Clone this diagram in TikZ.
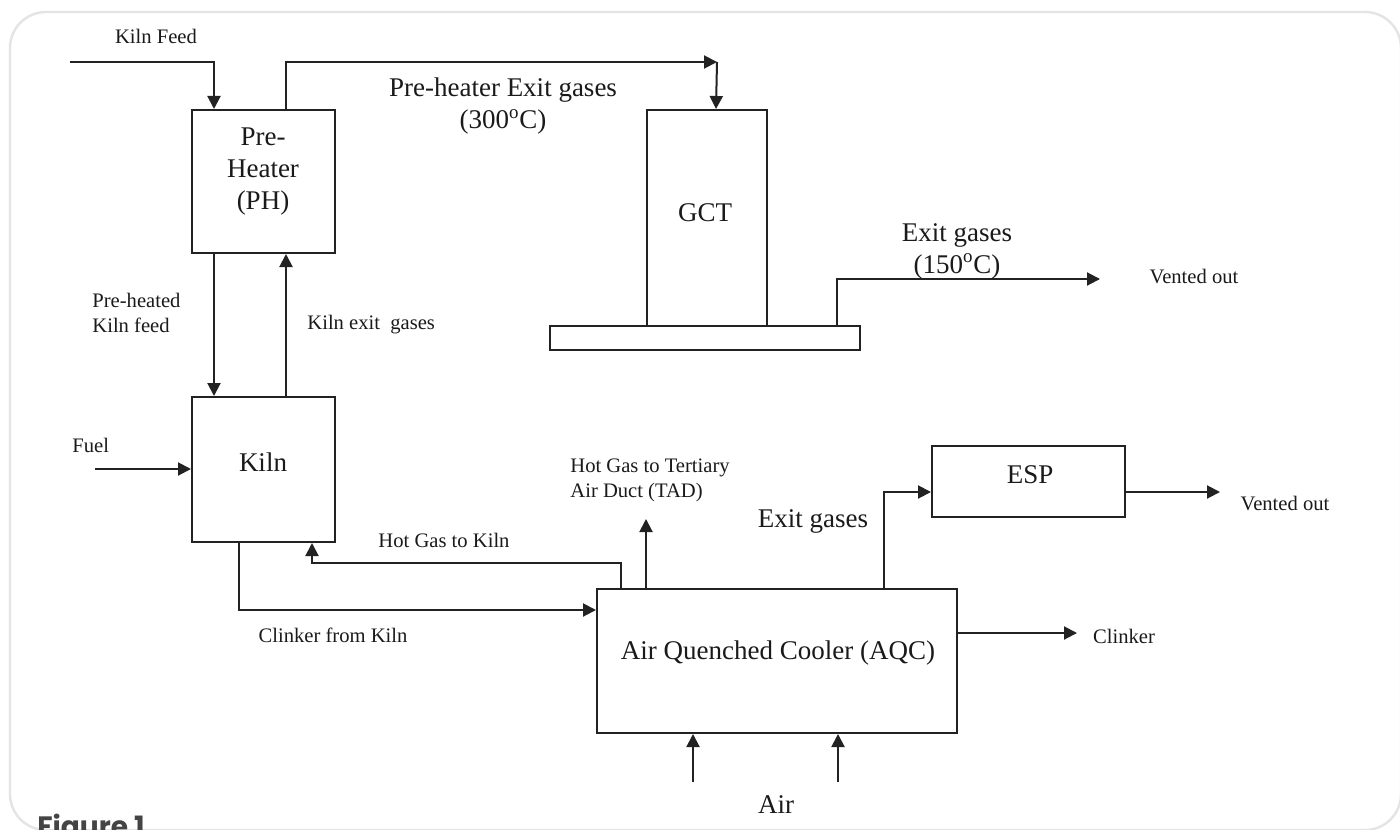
\documentclass[tikz,border=0pt]{standalone}
\usepackage{fontspec}
\setmainfont{Liberation Serif}
\newfontfamily\popfont{Poppins}
\usetikzlibrary{arrows.meta}
\definecolor{linec}{HTML}{222222}
\definecolor{txtc}{HTML}{1A1A1A}
\definecolor{bordc}{HTML}{E4E4E4}
\definecolor{figc}{HTML}{444444}
\begin{document}
\begin{tikzpicture}[x=0.5pt,y=-0.5pt,
  ln/.style={draw=linec, line width=1pt},
  arr/.style={ln, -{Triangle[length=6.5pt,width=6.5pt]}},
  box/.style={draw=linec, line width=1pt, inner sep=0pt},
  big/.style={font=\fontsize{13.5}{16}\selectfont, text=txtc, inner sep=0pt, align=center},
  small/.style={font=\fontsize{10.3}{12.2}\selectfont, text=txtc, inner sep=0pt}]
\useasboundingbox (0,0) rectangle (1400,829);
\clip (0,0) rectangle (1400,829);
\fill[white] (0,0) rectangle (1400,829);
\draw[draw=bordc, line width=1.2pt, rounded corners=18pt] (10,12) rectangle (1401,830);

% boxes
\node[box, minimum width=71.5pt, minimum height=71.5pt] (ph) at (263.5,181.5) {};
\node[box, minimum width=60pt, minimum height=108pt] (gct) at (707,218) {};
\node[box, minimum width=155pt, minimum height=12pt] (plate) at (705,338) {};
\node[box, minimum width=71.5pt, minimum height=72.5pt] (kiln) at (263.5,469.5) {};
\node[box, minimum width=180pt, minimum height=72pt] (aqc) at (777,661) {};
\node[box, minimum width=96.5pt, minimum height=35.5pt] (esp) at (1028.5,481.5) {};

% free ends
\coordinate (kf) at (70,62);
\coordinate (c1) at (717,62);
\coordinate (fuel) at (95,469);
\coordinate (hg) at (312,563);
\coordinate (tad) at (646,519);
\coordinate (gout) at (1100,279);
\coordinate (espout) at (1220,492);
\coordinate (clk) at (1077,633);
\coordinate (air1) at (693,782);
\coordinate (air2) at (838,782);

% connectors
\draw[arr] (kf) -| ([xshift=11.5pt]ph.north west);
\draw[arr] ([xshift=47.5pt]ph.north west) |- (c1);
\draw[arr] (c1) -- ([xshift=35pt]gct.north west);
\draw[arr] ([xshift=11.5pt]ph.south west) -- ([xshift=11.5pt]kiln.north west);
\draw[arr] ([xshift=47.5pt]kiln.north west) -- ([xshift=47.5pt]ph.south west);
\draw[arr] (fuel) -- (kiln.west |- fuel);
\draw[arr] ([xshift=12.5pt]aqc.north west) |- (hg) -- (kiln.south west -| hg);
\draw[arr] ([xshift=24pt]kiln.south west) |- ([yshift=-11pt]aqc.north west);
\draw[arr] (aqc.north -| tad) -- (tad);
\draw[arr] ([xshift=144pt]aqc.north west) |- ([yshift=-5.25pt]esp.west);
\draw[arr] ([yshift=-5.25pt]esp.east) -- (espout);
\draw[arr] (aqc.east |- clk) -- (clk);
\draw[arr] (air1) -- (aqc.south -| air1);
\draw[arr] (air2) -- (aqc.south -| air2);
\draw[arr] ([xshift=144pt]plate.north west) |- (gout);

% labels
\node[small] at (156,36) {Kiln Feed};
\node[big] at (503,106) {Pre-heater Exit gases\\(300\textsuperscript{o}C)};
\node[big] at (263,172) {Pre-\\Heater\\(PH)};
\node[big] at (705,213) {GCT};
\node[big] at (957,251) {Exit gases\\(150\textsuperscript{o}C)};
\node[small] at (1194,277) {Vented out};
\node[small, anchor=west, align=left] at (92,313) {Pre-heated\\Kiln feed};
\node[small, anchor=west] at (307,325) {Kiln exit\ \ gases};
\node[small, anchor=west] at (72,445) {Fuel};
\node[big] at (263,462) {Kiln};
\node[small] at (444,540) {Hot Gas to Kiln};
\node[small] at (333,635) {Clinker from Kiln};
\node[small, anchor=west, align=left] at (570,480.5) {Hot Gas to Tertiary\\Air Duct (TAD)};
\node[big] at (813,521) {Exit gases};
\node[big] at (1030,475) {ESP};
\node[small] at (1285,504) {Vented out};
\node[big] at (778,653) {Air Quenched Cooler (AQC)};
\node[small] at (1124,636) {Clinker};
\node[big] at (776,805) {Air};
\node[anchor=base west, inner sep=0pt, text=figc, font=\popfont\fontsize{14}{16}\selectfont\bfseries] at (37,836) {Figure 1};
\end{tikzpicture}
\end{document}
